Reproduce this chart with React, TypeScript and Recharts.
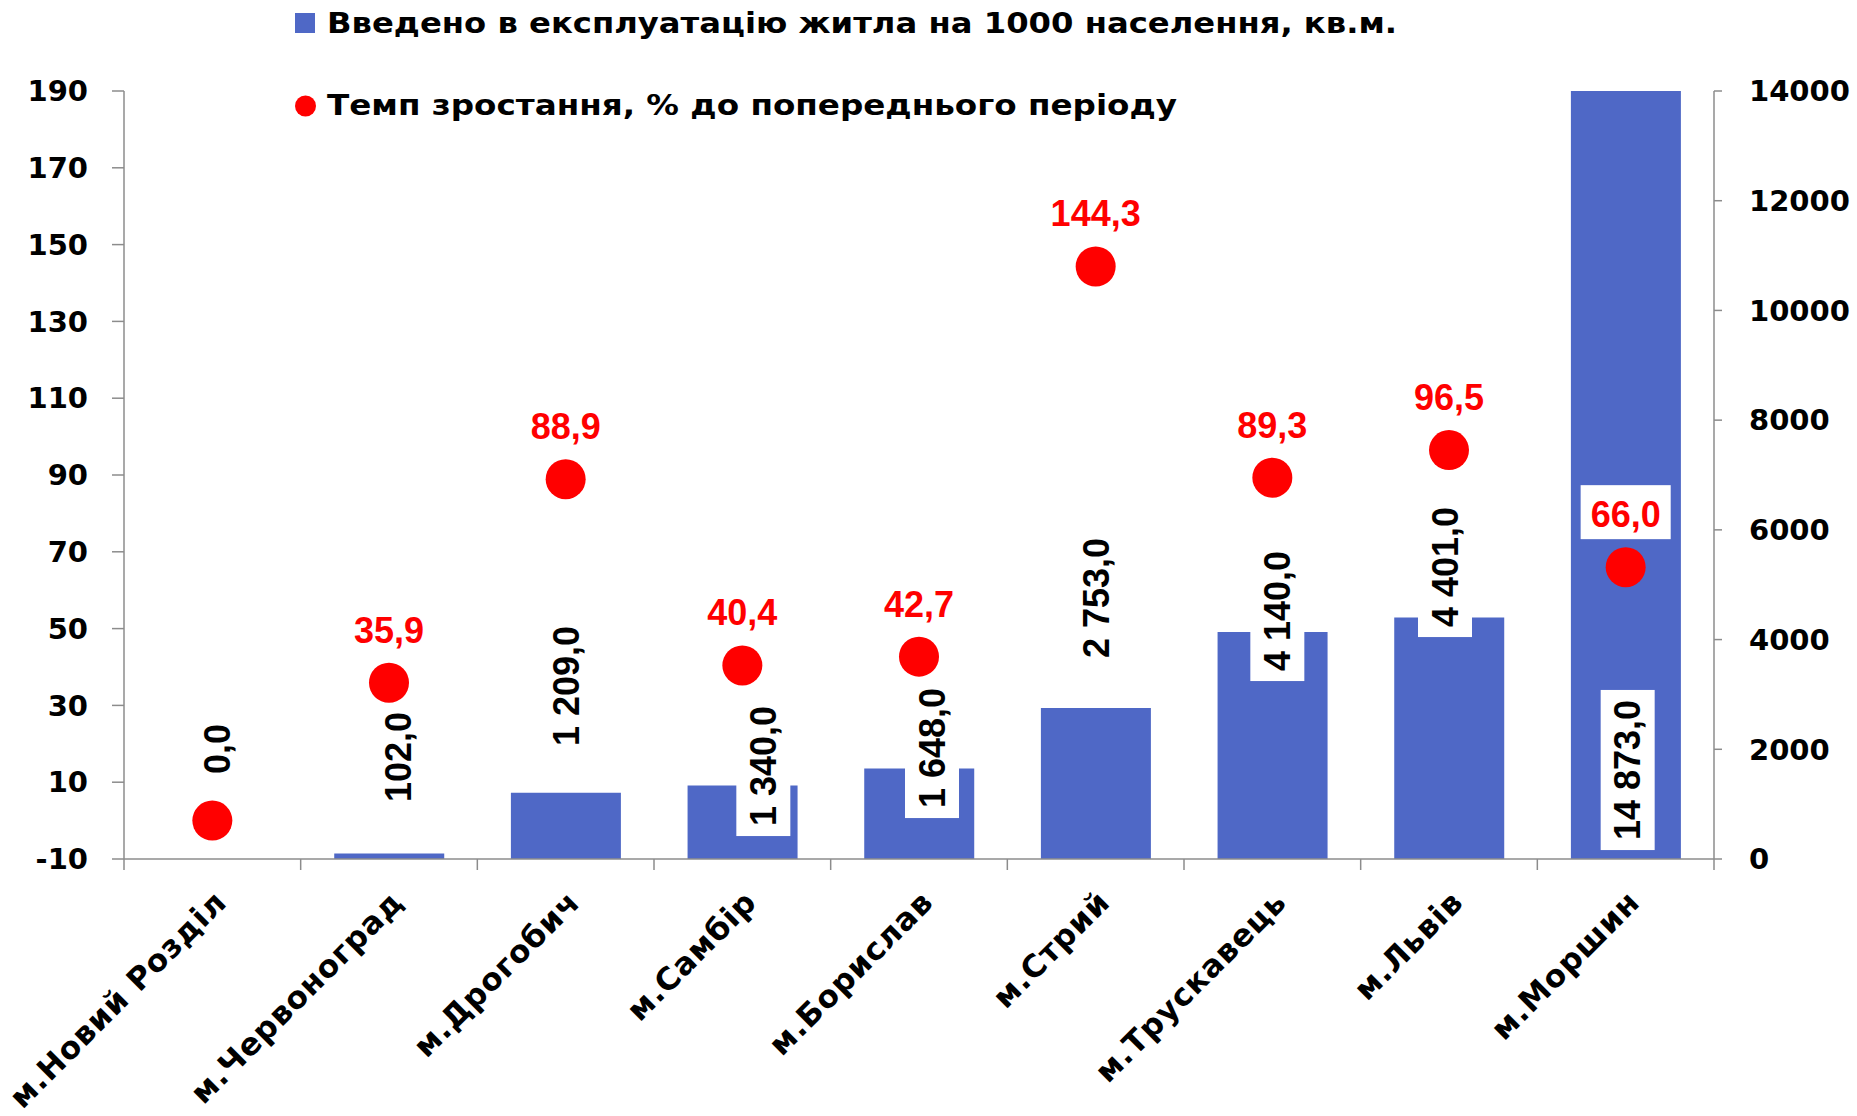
import React from 'react';
import { ComposedChart, Bar, Line, XAxis, YAxis, Legend } from 'recharts';

// ---------- data ----------
const cities = [
  'м.Новий Розділ',
  'м.Червоноград',
  'м.Дрогобич',
  'м.Самбір',
  'м.Борислав',
  'м.Стрий',
  'м.Трускавець',
  'м.Львів',
  'м.Моршин',
];
const housingPer1000 = [0, 102, 1209, 1340, 1648, 2753, 4140, 4401, 14873];
const growthRate = [0.0, 35.9, 88.9, 40.4, 42.7, 144.3, 89.3, 96.5, 66.0];
const leftTicks = [-10, 10, 30, 50, 70, 90, 110, 130, 150, 170, 190];
const rightTicks = [0, 2000, 4000, 6000, 8000, 10000, 12000, 14000];
const seriesNames = [
  'Введено в експлуатацію житла на 1000 населення, кв.м.',
  'Темп зростання, % до попереднього періоду',
];

// ---------- layout (label placement as in the source chart) ----------
const barLabelPlacement = [
  { dx: 5, lift: 110 },
  { dx: 9, lift: 102 },
  { dx: 1, lift: 173 },
  { dx: 21, lift: 93 },
  { dx: 13, lift: 111 },
  { dx: 1, lift: 261 },
  { dx: 5, lift: 248 },
  { dx: -4, lift: 292 },
  { dx: 2, lift: 89 },
];

const data = cities.map((city, i) => ({
  city,
  housing: housingPer1000[i],
  rate: growthRate[i],
}));

const W = 1857;
const H = 1116;
const LEFT_AXIS_W = 124;
const RIGHT_AXIS_W = 143;
const TOP = 91;
const X_AXIS_H = 257;
const PLOT_BOTTOM = H - X_AXIS_H;
const BAND = (W - LEFT_AXIS_W - RIGHT_AXIS_W) / cities.length;

const BLUE = '#4F68C6';
const RED = '#FF0000';
const AXIS = '#8C8C8C';
const TICK_FAMILY = '"DejaVu Sans", sans-serif';
const LABEL_FAMILY = '"Liberation Sans", Arial, sans-serif';

const fmt = (v: number) => {
  const [i, d] = v.toFixed(1).split('.');
  return i.replace(/\B(?=(\d{3})+(?!\d))/g, ' ') + ',' + d;
};
const textLen = (s: string, size: number) =>
  [...s].reduce((a, c) => a + (/\d/.test(c) ? 0.556 : 0.278) * size, 0);

function CityTick(props: any) {
  const { x, y, payload, index } = props;
  const left = x - BAND / 2;
  const ax = x + 16;
  const ay = y + 45;
  return (
    <g>
      <line x1={left} x2={left} y1={y} y2={y + 11} stroke={AXIS} strokeWidth={1.5} />
      {index === cities.length - 1 && (
        <line x1={x + BAND / 2} x2={x + BAND / 2} y1={y} y2={y + 11} stroke={AXIS} strokeWidth={1.5} />
      )}
      <text
        x={ax}
        y={ay}
        transform={`rotate(-45, ${ax}, ${ay})`}
        textAnchor="end"
        fontFamily={TICK_FAMILY}
        fontWeight={700}
        fontSize={31}
        letterSpacing={0.9}
        fill="#000"
      >
        {payload.value}
      </text>
    </g>
  );
}

// value labels of the bars (drawn through an invisible series on the bar axis,
// so that the zero-height bar also gets its label)
function BarLabelDot(props: any) {
  const { cx, payload, index } = props;
  if (cx == null) return <g key={`b-${index}`} />;
  const i = cities.indexOf(payload.city);
  const p = barLabelPlacement[i] || { dx: 0, lift: 100 };
  const x = cx + p.dx;
  const y = PLOT_BOTTOM - p.lift;
  const s = fmt(Number(payload.housing));
  const len = textLen(s, 36);
  return (
    <g key={`b-${index}`}>
      <rect x={x - 27} y={y - len / 2 - 10} width={54} height={len + 20} fill="#fff" />
      <text
        x={x}
        y={y}
        transform={`rotate(-90, ${x}, ${y})`}
        textAnchor="middle"
        dominantBaseline="central"
        fontFamily={LABEL_FAMILY}
        fontWeight={700}
        fontSize={36}
        fill="#000"
      >
        {s}
      </text>
    </g>
  );
}

function RateDot(props: any) {
  const { cx, cy, payload, index } = props;
  if (cx == null || cy == null) return <g key={`d-${index}`} />;
  const v = payload.rate as number;
  const s = fmt(v);
  const w = textLen(s, 36);
  return (
    <g key={`d-${index}`}>
      <circle cx={cx} cy={cy} r={20} fill={RED} />
      {v !== 0 && (
        <>
          <rect x={cx - w / 2 - 10} y={cy - 82} width={w + 20} height={54} fill="#fff" />
          <text
            x={cx}
            y={cy - 40}
            textAnchor="middle"
            fontFamily={LABEL_FAMILY}
            fontWeight={700}
            fontSize={36}
            fill={RED}
          >
            {s}
          </text>
        </>
      )}
    </g>
  );
}

function LegendContent() {
  return (
    <svg width={W} height={130} style={{ display: 'block' }}>
      <rect x={295} y={13} width={20} height={20} fill={BLUE} />
      <text
        x={327}
        y={33}
        fontFamily={TICK_FAMILY}
        fontWeight={700}
        fontSize={29}
        fill="#000"
        textLength={1070}
        lengthAdjust="spacingAndGlyphs"
      >
        {seriesNames[0]}
      </text>
      <circle cx={305.5} cy={106} r={10.5} fill={RED} />
      <text
        x={327}
        y={115}
        fontFamily={TICK_FAMILY}
        fontWeight={700}
        fontSize={29}
        fill="#000"
        textLength={850}
        lengthAdjust="spacingAndGlyphs"
      >
        {seriesNames[1]}
      </text>
    </svg>
  );
}

const tickFont = { fontFamily: TICK_FAMILY, fontWeight: 700, fontSize: 29, fill: '#000' };

export default function App() {
  return (
    <div style={{ position: 'absolute', left: 0, top: 0, width: W, height: H, background: '#fff' }}>
      <ComposedChart
        width={W}
        height={H}
        data={data}
        margin={{ top: TOP, right: 0, bottom: 0, left: 0 }}
        barCategoryGap="19%"
      >
        <Legend
          content={<LegendContent />}
          layout="horizontal"
          verticalAlign="middle"
          align="center"
          wrapperStyle={{ top: 0, left: 0, width: W, height: 130 }}
        />
        <XAxis
          dataKey="city"
          height={X_AXIS_H}
          interval={0}
          tickLine={false}
          tickSize={0}
          tickMargin={0}
          tick={<CityTick />}
          axisLine={{ stroke: AXIS, strokeWidth: 1.5 }}
        />
        <YAxis
          yAxisId="left"
          orientation="left"
          width={LEFT_AXIS_W}
          domain={[-10, 190]}
          ticks={leftTicks}
          allowDataOverflow
          interval={0}
          tick={tickFont}
          tickSize={12}
          tickMargin={24}
          axisLine={{ stroke: AXIS, strokeWidth: 1.5 }}
          tickLine={{ stroke: AXIS, strokeWidth: 1.5 }}
        />
        <YAxis
          yAxisId="right"
          orientation="right"
          width={RIGHT_AXIS_W}
          domain={[0, 14000]}
          ticks={rightTicks}
          allowDataOverflow
          interval={0}
          tick={tickFont}
          tickSize={8}
          tickMargin={27}
          axisLine={{ stroke: AXIS, strokeWidth: 1.5 }}
          tickLine={{ stroke: AXIS, strokeWidth: 1.5 }}
        />
        <Bar
          yAxisId="right"
          dataKey="housing"
          name={seriesNames[0]}
          fill={BLUE}
          isAnimationActive={false}
        />
        <Line
          yAxisId="right"
          dataKey="housing"
          stroke="none"
          dot={BarLabelDot}
          activeDot={false}
          isAnimationActive={false}
          legendType="none"
        />
        <Line
          yAxisId="left"
          dataKey="rate"
          name={seriesNames[1]}
          stroke="none"
          dot={RateDot}
          activeDot={false}
          isAnimationActive={false}
          legendType="circle"
        />
      </ComposedChart>
    </div>
  );
}
